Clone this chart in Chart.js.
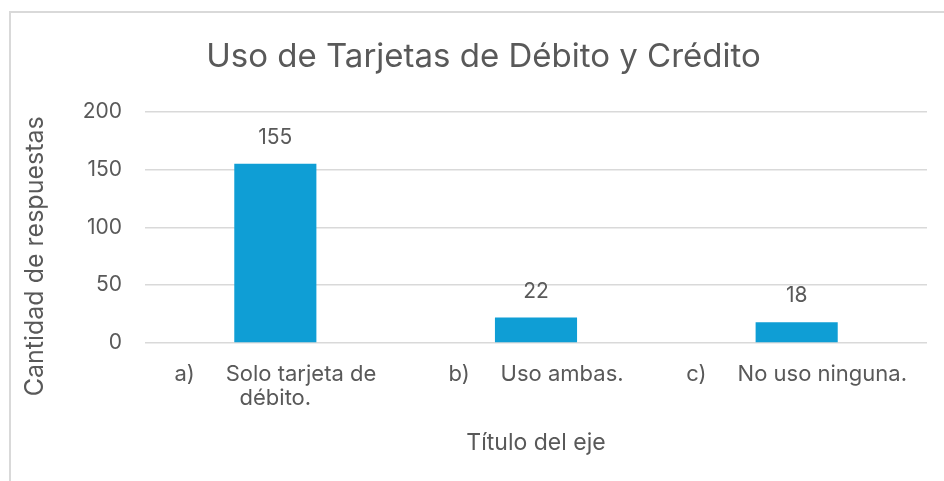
<!DOCTYPE html>
<html>
<head>
<meta charset="utf-8">
<script src="https://cdn.jsdelivr.net/npm/chart.js@4"></script>
<style>
  html, body { margin: 0; padding: 0; background: #fff; }
  #marco { position: absolute; left: 0; top: 0; width: 944px; height: 481px; }
  #borde { position: absolute; left: 9px; top: 11px; right: 0; bottom: 0; border-left: 2px solid #d9d9d9; border-top: 2px solid #d9d9d9; }
  canvas { position: absolute; left: 0; top: 0; }
</style>
</head>
<body>
<div id="marco">
  <div id="borde"></div>
  <canvas id="grafico" width="944" height="481"></canvas>
</div>
<script>
// Datos de la encuesta
const categorias = [
  ["a)     Solo tarjeta de", "débito."],
  "b)     Uso ambas.",
  "c)     No uso ninguna."
];
const respuestas = [155, 22, 18];
const tituloGrafico = "Uso de Tarjetas de Débito y Crédito";
const tituloEjeY = "Cantidad de respuestas";
const tituloEjeX = "Título del eje";

const colorTexto = "#595959";
const fuente = "Inter, 'Open Sans', sans-serif";

// Etiquetas de valor encima de cada barra
const etiquetasValor = {
  id: "etiquetasValor",
  afterDatasetsDraw(chart) {
    const ctx = chart.ctx;
    const meta = chart.getDatasetMeta(0);
    ctx.save();
    ctx.font = "21px " + fuente;
    ctx.fillStyle = colorTexto;
    ctx.textAlign = "center";
    ctx.textBaseline = "middle";
    meta.data.forEach((barra, i) => {
      ctx.fillText(respuestas[i], barra.x, barra.y - 26);
    });
    ctx.restore();
  }
};

// Título del eje Y, algo más abajo que el centro del área (como lo pone Excel)
const tituloVertical = {
  id: "tituloVertical",
  afterDraw(chart) {
    const ctx = chart.ctx;
    const area = chart.chartArea;
    const centroY = (area.top + area.bottom) / 2 + 29;
    ctx.save();
    ctx.translate(35, centroY);
    ctx.rotate(-Math.PI / 2);
    ctx.font = "25px " + fuente;
    ctx.fillStyle = colorTexto;
    ctx.textAlign = "center";
    ctx.textBaseline = "middle";
    ctx.fillText(tituloEjeY, 0, 0);
    ctx.restore();
  }
};

let ctx = document.getElementById("grafico").getContext("2d");
new Chart(ctx, {
  type: "bar",
  data: {
    labels: categorias,
    datasets: [{
      data: respuestas,
      backgroundColor: "#0f9ed5",
      borderWidth: 0,
      categoryPercentage: 1,
      barPercentage: 0.315
    }]
  },
  options: {
    responsive: false,
    animation: false,
    layout: { padding: { left: 40, right: 17, top: 0, bottom: 24 } },
    plugins: {
      legend: { display: false },
      tooltip: { enabled: false },
      title: {
        display: true,
        text: tituloGrafico,
        color: colorTexto,
        font: { family: fuente, size: 33, weight: "normal", lineHeight: 1.2 },
        padding: { top: 37, bottom: 35 }
      }
    },
    scales: {
      x: {
        grid: { display: false, drawTicks: false },
        border: { display: false },
        ticks: {
          color: colorTexto,
          font: { family: fuente, size: 22, lineHeight: 1.1 },
          maxRotation: 0,
          autoSkip: false,
          padding: 19
        },
        title: {
          display: true,
          text: tituloEjeX,
          color: colorTexto,
          font: { family: fuente, size: 23, lineHeight: 1.2 },
          padding: { top: 0, bottom: 0 }
        }
      },
      y: {
        min: 0,
        max: 200,
        afterFit(escala) { escala.width = 105; },
        ticks: {
          stepSize: 50,
          color: colorTexto,
          font: { family: fuente, size: 21 },
          padding: 23
        },
        grid: { color: "#d9d9d9", lineWidth: 1.5, drawTicks: false },
        border: { display: false }
      }
    }
  },
  plugins: [etiquetasValor, tituloVertical]
});
</script>
</body>
</html>
